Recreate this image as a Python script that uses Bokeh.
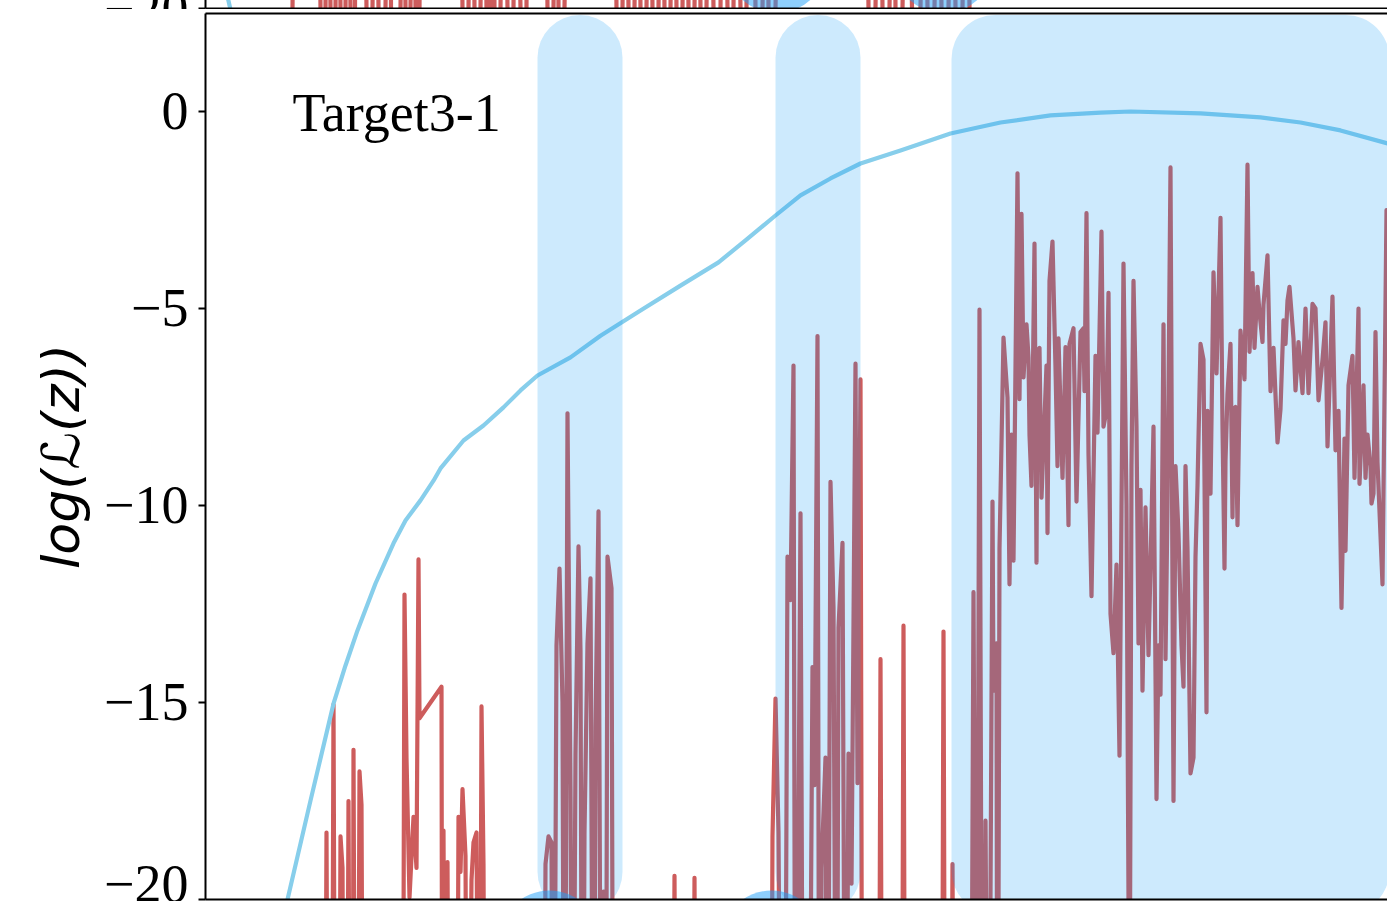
from bokeh.plotting import figure
from bokeh.models import Range1d, LinearAxis, FixedTicker, Label
from bokeh.core.properties import value
from bokeh.layouts import column
from bokeh.embed import file_html
from bokeh.resources import INLINE

# ---------------- data ----------------
LOW = -30.0  # values far below the visible range (log-likelihood -> -inf)

# main panel: noisy log-likelihood series (red)
red_x = [0, 115, 119, 121, 123, 126, 128, 130, 133, 135, 137, 139, 141, 143, 145, 147, 148, 150, 152, 154, 156, 158,
         195, 197, 199, 201, 204, 208, 211, 213, 214, 236, 237, 238, 240, 242, 244,
         251, 253, 255, 257, 260, 262, 266, 268, 271, 274, 276, 278, 280,
         338, 340, 343, 346, 348, 351, 354, 357, 359, 362, 365, 367, 370, 373, 375, 377, 379, 382, 385, 388, 390, 393, 396, 398, 400, 402, 406, 408,
         467, 469, 471, 487, 489, 491,
         565, 567, 570, 573, 576, 579, 582, 585, 588, 590, 595, 598, 603, 607, 609, 612, 614, 616, 620, 622, 625, 628, 631, 633, 637, 640, 643, 646, 650, 652, 655, 657,
         673, 675, 677, 696, 698, 700, 736, 738, 740, 745, 747, 749,
         765, 768, 771, 774, 777, 780, 783, 787, 788, 791,
         792, 794, 798, 802, 804, 806, 808, 812, 814, 816,
         818, 821, 823, 824, 826, 829, 831, 832, 834, 836,
         841, 842, 844, 847, 850, 852, 853, 857, 860, 863,
         864, 868, 871, 875, 878, 879, 881, 883, 886, 890,
         892, 896, 898, 901, 903, 905, 908, 911, 914, 918,
         921, 924, 926, 928, 931, 933, 935, 937, 940, 943,
         946, 948, 951, 953, 955, 958, 960, 962, 965, 968,
         970, 973, 976, 978, 980, 982, 985, 988, 990, 992,
         995, 998, 1001, 1002, 1005, 1008, 1011, 1015, 1017, 1019,
         1020, 1022, 1025, 1027, 1028, 1030, 1032, 1035, 1039, 1042,
         1044, 1047, 1049, 1052, 1054, 1057, 1058, 1062, 1065, 1068,
         1072, 1075, 1078, 1080, 1082, 1084, 1088, 1090, 1093, 1097,
         1100, 1103, 1107, 1110, 1113, 1117, 1120, 1122, 1127, 1130,
         1133, 1136, 1139, 1140, 1143, 1147, 1149, 1153, 1154, 1158,
         1160, 1162, 1165, 1166, 1168, 1170, 1172, 1177, 1181, 1186]
red_y = [LOW, LOW, LOW, -18.3, LOW, LOW, -15.05, LOW, LOW, -18.4, -19.2, LOW, LOW, -17.5, LOW, LOW, -16.2, LOW, LOW, -16.75, -17.6, LOW,
         LOW, LOW, -12.26, -16.4, -19.95, -17.9, -19.2, -11.37, -15.4, -14.6, LOW, -18.25, LOW, -19.05, LOW,
         LOW, -17.9, -19.3, -17.2, -18.9, LOW, -19.5, -18.55, -18.3, LOW, -15.1, -19.1, LOW,
         LOW, -19.1, -18.4, -18.55, LOW, -13.55, -11.6, -15.0, LOW, -7.66, -17.2, LOW, -16.3, -11.04, -13.7, LOW, -18.3, -13.5, -11.85, LOW, -15.6, -10.15, LOW, -19.8, LOW, -11.3, -12.1, LOW,
         LOW, -19.4, LOW, LOW, -19.45, LOW,
         LOW, -18.4, -14.9, -18.3, LOW, LOW, -11.3, -12.4, -6.45, LOW, -10.2, LOW, LOW, -14.1, -17.1, -5.7, LOW, -19.2, -16.4, LOW, -9.4, -12.6, LOW, -13.1, -10.95, LOW, -16.3, -19.6, -6.4, -17.05, -6.8, LOW,
         LOW, -13.9, LOW, LOW, -13.05, LOW, LOW, -13.2, LOW, LOW, -19.1, LOW,
         LOW, -12.2, LOW, -5.03, LOW, -18.0, LOW, -9.9, -14.7, -13.5,
         LOW, -11.1, -5.74, -7.26, -12.0, -8.2, -11.4, -1.57, -7.3, -2.6,
         -6.75, -5.4, -6.24, -8.2, -9.5, -3.35, -11.45, -6.07, -6.0, -9.8,
         -6.45, -10.7, -4.3, -3.3, -6.5, -9.0, -5.76, -9.3, -5.98, -10.5,
         -5.9, -5.5, -9.9, -5.6, -5.5, -7.1, -2.58, -8.7, -12.3, -6.2,
         -8.15, -3.05, -8.0, -7.6, -4.6, -12.75, -13.75, -11.5, -16.35, -3.86,
         -10.0, -25.0, -9.0, -4.3, -8.0, -13.5, -9.6, -14.7, -10.05, -13.8,
         -10.4, -8.0, -17.45, -13.55, -14.8, -5.4, -13.9, -10.0, -1.42, -17.5,
         -9.0, -10.7, -13.55, -14.6, -9.0, -11.1, -16.8, -16.4, -11.3, -9.5,
         -5.9, -6.3, -15.25, -7.6, -9.7, -4.08, -6.65, -2.7, -8.0, -11.6,
         -8.86, -7.16, -5.9, -10.3, -7.55, -7.5, -10.5, -5.56, -6.8, -1.35,
         -6.1, -4.1, -6.0, -4.45, -5.1, -5.85, -4.9, -3.65, -7.1, -6.0,
         -8.4, -7.55, -5.3, -5.9, -4.8, -4.45, -5.76, -7.08, -5.85, -7.15,
         -5.0, -7.15, -4.88, -5.0, -7.33, -6.3, -5.35, -8.5, -4.7, -8.6,
         -7.6, -12.6, -8.3, -11.15, -6.95, -6.2, -9.3, -5.0, -9.45, -6.95,
         -9.3, -8.2, -9.0, -9.95, -9.7, -5.6, -8.9, -12.0, -2.5, -8.0]
assert len(red_x) == len(red_y)

# main panel: smooth reference curve (blue)
curve_x = [70, 82, 105, 128, 140, 152, 170, 188, 200, 215, 228, 235, 258, 278, 298, 315, 332, 365, 395, 435,
           475, 513, 540, 570, 595, 625, 655, 695, 745, 795, 845, 895, 925, 995, 1055, 1095, 1135, 1182]
curve_y = [-21.3, -20.0, -17.49, -15.03, -14.06, -13.17, -11.98, -10.96, -10.38, -9.87, -9.37, -9.06, -8.35,
           -7.97, -7.51, -7.08, -6.70, -6.24, -5.69, -5.05, -4.42, -3.83, -3.27, -2.64, -2.13, -1.70, -1.32,
           -0.99, -0.56, -0.28, -0.10, -0.03, 0.0, -0.05, -0.15, -0.28, -0.48, -0.81]
assert len(curve_x) == len(curve_y)

# highlighted intervals
region_start = [332, 570, 746]
region_end = [417, 655, 1184]

# detection markers
event_x = [344, 566]
event_y = [-21.04, -21.04]

# upper panel (only its lower edge is visible)
top_red_x = [0, 84, 90, 112, 118, 122, 128, 132, 138, 142, 148, 151, 158, 164, 170, 176, 184, 187,
             192, 198, 202, 208, 212, 216, 254, 260, 266, 272, 278, 284, 286, 292, 298, 306, 310, 320, 322,
             339, 345, 351, 355, 363, 408, 414, 420, 426, 432, 438, 444, 450, 456, 462, 468, 474, 480, 486,
             492, 498, 504, 512, 518, 526, 530, 540, 542, 547, 553, 561, 565, 575, 660, 666, 674, 680, 688,
             692, 702, 711, 719, 725, 733, 739, 747, 753, 761, 767, 800, 1182]
top_red_y = [-28, -28, -12, -12, -28, -12, -28, -12, -28, -12, -28, -12, -12, -28, -12, -28, -12, -28,
             -28, -12, -28, -12, -28, -12, -12, -28, -12, -28, -12, -28, -12, -28, -12, -28, -12, -28, -12,
             -12, -28, -12, -28, -12, -12, -28, -12, -28, -12, -28, -12, -28, -12, -28, -12, -28, -12, -28,
             -12, -28, -12, -28, -12, -28, -12, -28, -12, -12, -28, -12, -28, -12, -12, -28, -12, -28, -12,
             -28, -12, -28, -12, -28, -12, -28, -12, -28, -12, -28, -28, -28]
assert len(top_red_x) == len(top_red_y)
top_curve_x = [10, 30]
top_curve_y = [-18.35, -20.59]
top_event_x = [571, 738]
top_event_y = [-18.85, -18.85]

y_ticks = [0, -5, -10, -15, -20]
y_tick_labels = ["0", "\u22125", "\u221210", "\u221215", "\u221220"]
top_tick = -20
top_tick_label = "\u221220"
panel_title = "Target3-1"
y_label = "log(\u2112(z))"

# ---------------- styling ----------------
W = 1387
LEFT = 205      # width of the left margin in pixels (1 x unit = 1 pixel)
XMAX = 1182
PXU = 39.4      # pixels per y unit in both panels
HIDDEN = 30     # part of the upper panel scrolled above the window
SERIF = "Liberation Serif"
RED = "#CD5C5C"
SKY = "#87CEEB"
SHADE = "#0596F5"
DOT = "#1EA0FA"
LW = 4.2


def bare_axis():
    return LinearAxis(ticker=FixedTicker(ticks=[]), major_tick_out=0, major_tick_in=0,
                      minor_tick_out=0, minor_tick_in=0, major_label_standoff=0,
                      axis_line_color="black", axis_line_width=2)


def style_y(ax, ticks, labels):
    ax.ticker = FixedTicker(ticks=ticks)
    ax.major_label_overrides = dict(zip(ticks, labels))
    ax.major_label_text_font = SERIF
    ax.major_label_text_font_size = "54px"
    ax.major_label_text_color = "black"
    ax.major_tick_out = 7
    ax.major_tick_in = 0
    ax.minor_tick_out = 0
    ax.minor_tick_in = 0
    ax.major_tick_line_width = 2
    ax.axis_line_width = 2
    ax.major_label_standoff = 10


# upper panel strip: canvas spans page y -30..9, its bottom axis (y=-20) at page y=8.
# Its frame covers the full width so that its (mostly hidden) tick label can be drawn as text.
t = figure(width=W, height=HIDDEN + 9, x_range=Range1d(-LEFT, XMAX),
           y_range=Range1d(-20 - 1 / PXU, -20 + (HIDDEN + 8) / PXU),
           output_backend="svg", toolbar_location=None, x_axis_location=None, y_axis_location=None,
           min_border_left=0, min_border_right=0, min_border_top=0, min_border_bottom=0,
           frame_align=False)
t.outline_line_color = None
t.grid.visible = False
t.line(top_red_x, top_red_y, line_color=RED, line_width=LW, line_join="round")
t.line(top_curve_x, top_curve_y, line_color=SKY, line_width=LW)
t.scatter(top_event_x, top_event_y, size=100, marker="circle", fill_color=DOT, fill_alpha=0.5, line_color=None)
# axis lines and tick of the upper panel
t.segment(x0=[0, 0, -7], y0=[top_tick, top_tick, top_tick], x1=[XMAX, 0, 0], y1=[top_tick, -18, top_tick],
          line_color="black", line_width=2)
t.text(x=[-17], y=[top_tick], text=[top_tick_label], text_font=value(SERIF), text_font_size="54px",
       text_color="black", text_align="right", text_baseline="middle")

# main panel
p = figure(width=W, height=892, x_range=Range1d(0, XMAX), y_range=Range1d(-20, 2.487),
           output_backend="svg", toolbar_location=None, x_axis_location=None,
           min_border_left=LEFT, min_border_right=0, min_border_top=4, min_border_bottom=2,
           frame_align=False)
p.outline_line_color = None
p.grid.visible = False
style_y(p.yaxis[0], y_ticks, y_tick_labels)
p.yaxis[0].axis_label = y_label
p.yaxis[0].axis_label_text_font = "DejaVu Sans"
p.yaxis[0].axis_label_text_font_style = "italic"
p.yaxis[0].axis_label_text_font_size = "52px"
p.yaxis[0].axis_label_text_color = "black"
p.yaxis[0].axis_label_standoff = 10
p.add_layout(bare_axis(), "below")
p.add_layout(bare_axis(), "above")

p.line(red_x, red_y, line_color=RED, line_width=LW, line_join="round")
p.line(curve_x, curve_y, line_color=SKY, line_width=LW, line_join="round")
p.quad(left=region_start, right=region_end, top=2.45, bottom=-20.38,
       fill_color=SHADE, fill_alpha=0.2, line_color=None, border_radius=44)
p.scatter(event_x, event_y, size=100, marker="circle", fill_color=DOT, fill_alpha=0.5, line_color=None)
p.add_layout(Label(x=87, y=-0.03, text=panel_title, text_font=SERIF, text_font_size="54px",
                   text_color="black", text_baseline="alphabetic"))

layout = column(t, p, spacing=0, margin=(-HIDDEN, 0, 0, 0))
open("out.html", "w").write(file_html(layout, INLINE))
